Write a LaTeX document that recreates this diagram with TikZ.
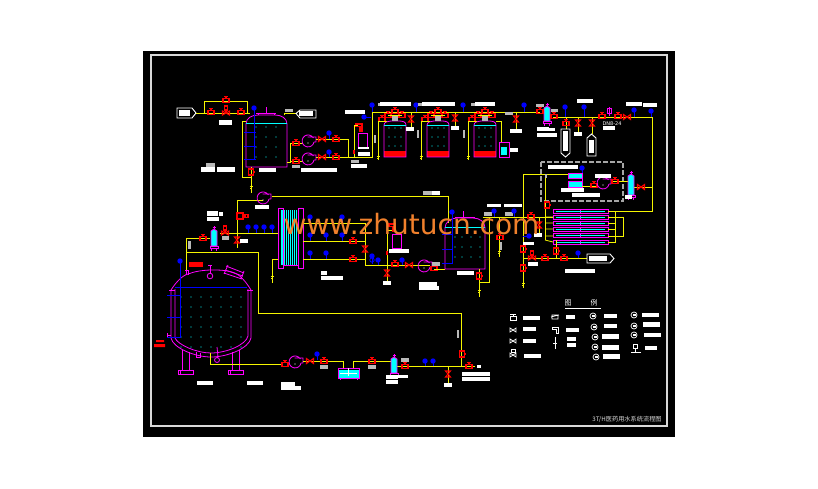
\documentclass[tikz,border=0pt]{standalone}
\usepackage{fontspec}
\setmainfont{DejaVu Sans}
\newfontfamily\cjkfont{Noto Sans CJK SC}
\definecolor{cyan}{RGB}{0,255,255}
\definecolor{magenta}{RGB}{255,0,255}
\definecolor{red}{RGB}{255,0,0}
\definecolor{blue}{RGB}{0,0,255}
\definecolor{yellow}{RGB}{245,245,0}
\definecolor{stamp}{RGB}{240,128,44}
\tikzset{
  pipe/.style={draw=yellow, line width=0.8pt},
  vessel/.style={draw=magenta, line width=0.8pt},
  vlv/.style={draw=red, line width=1.05pt},
  inst/.style={draw=blue, line width=0.8pt},
  lgd/.style={draw=white, line width=0.7pt},
  tagbox/.style={draw=white, line width=0.9pt},
}
\newcommand{\wtag}[4]{\fill[white] (#1,#2) rectangle (#3,#4);}
\newcommand{\gtag}[4]{\fill[gray!55] (#1,#2) rectangle (#3,#4);}
\newcommand{\gatev}[2]{\begin{scope}[shift={(#1,#2)}]
  \draw[vlv] (-3,-1.5) rectangle (3,2.5);
  \draw[vlv] (0,-1.5) -- (0,-3.5) (-2,-3.5) -- (2,-3.5);
\end{scope}}
\newcommand{\vgatev}[2]{\begin{scope}[shift={(#1,#2)}]
  \draw[vlv] (-2.5,-3) rectangle (2.5,3);
  \draw[vlv] (2.5,0) -- (4,0);
\end{scope}}
\newcommand{\xvalve}[2]{\draw[vlv] (#1-2.5,#2-3) -- (#1+2.5,#2-3) -- (#1-2.5,#2+3) -- (#1+2.5,#2+3) -- cycle;}
\newcommand{\chkv}[2]{\draw[vlv] (#1-3.5,#2-2.5) -- (#1-3.5,#2+2.5) -- (#1+3.5,#2-2.5) -- (#1+3.5,#2+2.5) -- cycle;}
\newcommand{\ctrlv}[2]{\draw[vlv] (#1-3.5,#2-2) -- (#1-3.5,#2+2) -- (#1+3.5,#2-2) -- (#1+3.5,#2+2) -- cycle;
  \draw[vlv] (#1,#2) -- (#1,#2-3) (#1-1.5,#2-7) rectangle (#1+1.5,#2-3);}
\newcommand{\gauge}[3]{\draw[inst] (#1,#2) -- (#1,#2+#3);
  \fill[blue] (#1,#2) circle (2.7);}
\newcommand{\drain}[2]{\draw[pipe] (#1-1.5,#2-1) -- (#1+1.5,#2-1) (#1-1,#2+1) -- (#1+1,#2+1);}
\newcommand{\pump}[2]{\begin{scope}[shift={(#1,#2)}]
  \draw[vessel] (6,-1) arc (10:330:6) (6,-1) -- (8,-1) (-0.5,-6) -- (8,-6) -- (8,-1);
  \fill[white] (0,0) circle (0.7);
\end{scope}}
\newcommand{\cfilter}[3]{\begin{scope}[shift={(#1,#2)}]
  \fill[cyan] (-3,-7) -- (0,-9) -- (3,-7) -- (3,#3) -- (-3,#3) -- cycle;
  \draw[vessel] (-3,-7) -- (0,-9) -- (3,-7) -- (3,#3) -- (-3,#3) -- cycle;
  \draw[vessel] (0,-9) -- (0,-12) (-1.5,-11) -- (1.5,-11);
  \draw[vessel] (-4,#3) rectangle (4,#3+2) (-2.5,#3+2) -- (-2.5,#3+5) (2.5,#3+2) -- (2.5,#3+5);
\end{scope}}
\newcommand{\elbow}[2]{\draw[vlv] (#1-3,#2-3) -- (#1+3,#2-3) -- (#1+3,#2+4) -- (#1+1,#2+4) -- (#1+1,#2-0.5) -- (#1-3,#2-0.5) -- cycle;}
\newcommand{\rtank}[1]{\begin{scope}[shift={(#1,0)}]
  % body and resin bed
  \fill[red] (0,151) rectangle (22,157);
  \draw[vessel] (0,157) -- (0,125) .. controls (0,122) and (4,121) .. (7,121) -- (15,121) .. controls (19,121) and (22,122) .. (22,125) -- (22,157) -- cycle;
  \draw[cyan, line width=0.6pt] (0,125) -- (22,125);
  \foreach \dx in {5,11,17} \foreach \dy in {128,137,146} \fill[cyan] (\dx,\dy) circle (0.6);
  \gatev{-2}{119} \gatev{4}{115} \gatev{11}{111} \gatev{18}{115}
  \fill[gray!55] (8,115) rectangle (14,121);
  \draw[pipe] (-6,121) -- (3,121) (-6,121) -- (-6,160) (4,115) -- (18,115);
  \drain{-6}{157}
\end{scope}}
\newcommand{\coil}[1]{
  \draw[magenta, line width=0.6pt] (553,#1) rectangle (608,#1+4);
  \draw[magenta, line width=0.6pt] (580,#1) -- (580,#1+4);
  \draw[cyan, line width=0.5pt] (556,#1+2) -- (605,#1+2);}
\begin{document}
\begin{tikzpicture}[x=1pt, y=-1pt]
\useasboundingbox (0,0) rectangle (818,488);
\fill[white] (0,0) rectangle (818,488);
\fill[black] (143,51) rectangle (675,437);
\draw[gray!30!white, line width=1.6pt] (151,55) rectangle (667,426);
% Softener line, top left
\draw[pipe] (196,113) -- (250,113) (204,113) -- (204,101) -- (247,101) -- (247,113);
\draw[tagbox] (177,108) -- (192,108) -- (196,113) -- (192,118) -- (177,118) -- cycle;
\wtag{179}{110}{190}{116}
\gatev{211}{112} \gatev{241}{112} \gatev{226}{100}
\ctrlv{226}{113}
\wtag{219}{120}{232}{125}
% First tank
\draw[vessel] (246,167) -- (246,124) .. controls (246,118) and (252,115) .. (258,115) -- (275,115) .. controls (281,115) and (287,118) .. (287,124) -- (287,167) -- cycle;
\draw[cyan, line width=0.6pt] (246,123) -- (287,123);
\draw[vessel] (256,113) -- (276,113) (258,113) -- (258,115) (274,113) -- (274,115) (266,107) -- (266,113);
\foreach \x in {256,266,276} \foreach \y in {127,137,147,157} \fill[cyan] (\x,\y) circle (0.6);
\gauge{254}{108}{52}
\draw[inst] (244,132) -- (256,132) (244,146) -- (256,146) (244,159) -- (256,159);
\draw[pipe] (246,121) -- (242,121) -- (242,177) -- (251,177);
\draw[pipe] (251,167) -- (251,193);
\vgatev{251}{172} \drain{251}{187}
\gtag{206}{163}{215}{167} \wtag{201}{167}{215}{172} \wtag{217}{167}{235}{172}
\wtag{259}{168}{276}{172}
\draw[pipe] (287,162) -- (290,162) -- (290,143) -- (303,143) (290,161) -- (303,161);
\draw[pipe] (284,115) -- (284,113) -- (296,113);
\draw[tagbox] (316,110) -- (300,110) -- (296,113.5) -- (300,118) -- (316,118) -- cycle;
\wtag{299}{111}{313}{116}
\gtag{285}{109}{293}{112}
\pump{308}{143} \pump{308}{161}
\gatev{296}{143} \gatev{296}{161}
\gtag{292}{165}{300}{168}
\draw[pipe] (316,139) -- (348,139) -- (348,157) (316,157) -- (373,157);
\chkv{322}{139} \chkv{322}{157}
\gatev{336}{139} \gatev{336}{157}
\gauge{329}{133}{6} \gauge{329}{152}{5}
\wtag{301}{168}{337}{172}
\wtag{345}{110}{365}{114}
% Degasser column
\draw[vessel] (358,133) rectangle (367,147);
\elbow{359}{127}
\draw[pipe] (354,157) -- (354,125) -- (358,125);
\fill[red] (353,150) rectangle (355,154);
\wtag{358}{147}{369}{149} \wtag{358}{152}{370}{156}
\gtag{374}{135}{376}{143} \gtag{351}{160}{359}{163} \wtag{351}{164}{367}{168}
% Main header
\draw[pipe] (372,157) -- (372,112) -- (540,112);
\draw[pipe] (553,117) -- (652,117) -- (652,211) -- (608,211);
\gauge{372}{105}{7} \gauge{416}{105}{7} \gauge{463}{105}{7} \gauge{524}{105}{7}
\gauge{364}{117}{0} \draw[inst] (364,117) -- (371,117);
\rtank{384} \rtank{427} \rtank{474}
\draw[pipe] (496,121) -- (501,121) -- (501,142);
\draw[vessel] (499,142) rectangle (509,157);
\fill[cyan] (501,147) rectangle (507,155);
\wtag{510}{148}{518}{152}
\draw[pipe] (411,112) -- (411,127) (455,112) -- (455,127) (516,112) -- (516,129);
\xvalve{411}{119} \xvalve{455}{118} \xvalve{516}{119}
\wtag{406}{127}{414}{131} \wtag{451}{126}{459}{130} \wtag{510}{129}{522}{133}
\wtag{380}{102}{411}{106} \wtag{422}{102}{455}{106} \wtag{475}{102}{495}{106}
\gtag{378}{103}{380}{106} \gtag{418}{103}{422}{106} \gtag{471}{103}{475}{106}
\gtag{417}{130}{419}{138} \gtag{463}{130}{465}{138}
\gtag{505}{112}{513}{115} \gtag{536}{104}{544}{107}
% Final filters and outlet
\cfilter{547}{115}{6}
\gatev{540}{111} \gatev{554}{116}
\wtag{537}{127}{549}{131} \wtag{549}{128}{555}{131} \wtag{537}{133}{557}{137}
\gtag{551}{109}{558}{112}
\gauge{565}{107}{10} \gauge{584}{107}{10} \gauge{634}{110}{7} \gauge{651}{111}{6}
\draw[pipe] (566,117) -- (566,129) (578,117) -- (578,132) (592,117) -- (592,134);
\gatev{566}{123} \xvalve{578}{123} \xvalve{592}{123}
\draw[tagbox] (561,129) -- (570,129) -- (570,153) -- (565.5,157) -- (561,153) -- cycle;
\wtag{563}{131}{568}{151}
\draw[tagbox] (587,138) -- (591.5,134) -- (596,138) -- (596,156) -- (587,156) -- cycle;
\wtag{589}{140}{594}{153}
\wtag{574}{132}{582}{136} \wtag{577}{99}{593}{103}
\gatev{602}{116} \gatev{618}{116} \chkv{627}{117}
\draw[vessel] (609,107) -- (609,116) (607,108) rectangle (611,113);
\node[white, font=\tiny, inner sep=0pt] (outletsize) at (612,124) {DN8-24};
\wtag{603}{126}{615}{130}
\wtag{626}{102}{642}{106} \wtag{643}{103}{657}{107}
% Dashed skid
\draw[gray!70!white, dash pattern=on 5pt off 2pt, line width=1.1pt] (541,162) rectangle (623,201);
\draw[pipe] (523,288) -- (523,174) -- (568,174) (545,174) -- (545,240);
\fill[cyan] (568,173) rectangle (582,187);
\draw[vessel] (568,173) rectangle (582,187);
\fill[black] (568,178) rectangle (582,181);
\draw[vessel] (568,178) -- (582,178) (568,181) -- (582,181);
\draw[pipe] (582,186) -- (597,186) (611,181) -- (628,181) (634,187) -- (652,187);
\gatev{594}{185} \pump{603}{185} \gatev{615}{181}
\cfilter{631}{183}{12} \chkv{641}{187}
\gauge{582}{168}{5}
\wtag{548}{165}{578}{169} \wtag{595}{174}{611}{178} \wtag{561}{188}{584}{192}
\wtag{572}{193}{600}{197} \wtag{625}{195}{632}{199} \gtag{545}{174}{547}{178}
% Coil heat exchangers
\foreach \y in {209,215,221,227,233,240} {\coil{\y}}
\draw[pipe] (608,211) -- (615,211) (615,211) -- (615,242) -- (608,242) (608,217) -- (623,217) -- (623,236) -- (608,236)
  (608,223) -- (615,223) (608,229) -- (615,229);
\draw[pipe] (545,217) -- (553,217) (545,223) -- (553,223) (545,229) -- (553,229) (545,236) -- (553,236) (545,240) -- (553,242);
\draw[pipe] (483,217) -- (553,217);
\gatev{531}{216}
\vgatev{547}{205}
\draw[pipe] (539,217) -- (539,233);
\xvalve{539}{225}
\wtag{534}{233}{542}{237} \wtag{523}{242}{534}{245}
\gauge{529}{236}{0} \draw[inst] (529,236) -- (523,236);
\draw[pipe] (523,258) -- (587,258) (556,240) -- (556,258);
\vgatev{523}{249} \vgatev{523}{268} \vgatev{556}{251}
\ctrlv{532}{258} \gatev{545}{258} \gatev{564}{258}
\gauge{578}{253}{5}
\draw[tagbox] (587,254) -- (610,254) -- (614,258.5) -- (610,263) -- (587,263) -- cycle;
\wtag{589}{256}{607}{261}
\wtag{528}{262}{538}{266} \wtag{565}{269}{595}{273}
\drain{523}{284}
\gtag{423}{191}{432}{195} \wtag{432}{191}{440}{195}
\wtag{487}{204}{501}{207} \wtag{504}{204}{522}{207}
\gtag{484}{212}{492}{216} \gtag{505}{212}{513}{216} \gtag{500}{242}{502}{250}
% Return loop and exchanger
\draw[pipe] (272,196) -- (448,196) -- (448,223);
\draw[pipe] (263,200) -- (237,200) -- (237,248);
\pump{263}{200}
\begin{scope}[shift={(240,216)}]\draw[vlv] (-3,-3) rectangle (3,3); \draw[vlv] (3,0) -- (5,0); \draw[vlv] (5,-1.5) rectangle (8,1.5);\end{scope}
\wtag{255}{205}{269}{209}
\wtag{207}{211}{218}{216} \wtag{219}{212}{223}{216} \wtag{207}{217}{219}{221}
\fill[cyan] (281,210) rectangle (299,265);
\foreach \x in {283,285,...,297} \draw[black, line width=0.35pt] (\x,210) -- (\x,265);
\draw[vessel] (278,268) -- (278,208) -- (283,208) -- (283,265) -- (298,265) -- (298,208) -- (303,208) -- (303,268) -- (298,268) -- (298,265) (283,265) -- (283,268) -- (278,268);
\draw[pipe] (186,272) -- (186,238) -- (210,238) (220,233) -- (278,233);
\gauge{248}{227}{6} \gauge{256}{227}{6} \gauge{264}{227}{6} \gauge{272}{227}{6}
\gauge{310}{217}{6} \gauge{342}{217}{6} \gauge{310}{235}{6} \gauge{326}{235}{6} \gauge{342}{235}{6}
\gauge{310}{253}{6} \gauge{326}{253}{6}
\cfilter{214}{238}{8}
\ctrlv{225}{233} \gatev{203}{238}
\draw[pipe] (237,230) -- (237,248);
\xvalve{237}{240}
\wtag{240}{239}{248}{243} \gtag{222}{236}{229}{240} \gtag{188}{241}{191}{249}
\draw[pipe] (303,223) -- (365,223) -- (365,265) -- (430,265) (303,241) -- (365,241) (303,259) -- (365,259);
\gatev{353}{241} \gatev{353}{259}
\xvalve{365}{249}
\gauge{372}{256}{8} \draw[inst] (372,260) circle (2.2); \gauge{378}{260}{5} \gauge{402}{260}{5}
\draw[pipe] (278,259) -- (272,259) -- (272,283);
\drain{272}{277}
\wtag{321}{271}{327}{275} \wtag{321}{276}{343}{280}
% Second tank and degasser
\draw[vessel] (392,234) rectangle (401,248);
\elbow{392}{227}
\draw[pipe] (387,230) -- (392,230) (387,230) -- (387,281);
\fill[red] (386,251) rectangle (388,255);
\xvalve{387}{273}
\wtag{389}{249}{409}{253} \wtag{383}{281}{391}{285}
\gatev{395}{264} \chkv{409}{265}
\pump{424}{268} \gatev{434}{268}
\draw[pipe] (434,269) -- (445,269);
\gtag{432}{262}{440}{266}
\wtag{419}{282}{437}{286} \wtag{419}{286}{439}{290}
\draw[vessel] (445,269) -- (445,228) .. controls (445,222) and (451,218) .. (457,218) -- (473,218) .. controls (480,218) and (485,222) .. (485,228) -- (485,269) -- cycle;
\draw[cyan, line width=0.6pt] (445,227) -- (485,227);
\draw[vessel] (455,217) -- (475,217) (463,211) -- (463,217);
\foreach \x in {455,462,471,480} \foreach \y in {237,247,257} \fill[cyan] (\x,\y) circle (0.6);
\gauge{452}{212}{51}
\draw[inst] (442,234) -- (453,234) (442,249) -- (453,249) (442,263) -- (453,263);
\gauge{494}{211}{6} \gauge{514}{211}{6}
\draw[pipe] (489,217) -- (489,282) -- (479,282) (479,269) -- (479,297) (499,217) -- (499,257);
\gatev{500}{237} \vgatev{479}{276} \drain{479}{291} \drain{499}{252}
\wtag{457}{271}{474}{275}
% Long return
\draw[pipe] (186,252) -- (258,252) -- (258,313) -- (461,313) -- (461,367);
% Main storage tank
\fill[red] (189,262) rectangle (203,267);
\draw[vessel] (171,290) .. controls (176,282) and (183,275) .. (188,274) .. controls (200,269) and (222,269) .. (232,272) .. controls (240,274) and (246,282) .. (251,290);
\draw[vessel] (171,290) -- (171,338) .. controls (173,348) and (195,357) .. (211,357) .. controls (228,357) and (249,348) .. (251,338) -- (251,290);
\draw[vessel] (175,289) -- (175,338) .. controls (178,345) and (197,353) .. (211,353) .. controls (226,353) and (246,345) .. (248,336) -- (248,289);
\draw[vessel] (169,290) -- (175,290) (247,290) -- (253,290);
\draw[blue, line width=0.5pt] (175,287) -- (247,287);
\foreach \x in {181,191,...,241} \foreach \y in {297,307,...,347} \fill[cyan] (\x,\y) circle (0.6);
\gauge{180}{261}{77}
\draw[inst] (167,295) -- (180,295) (167,317) -- (180,317) (167,337) -- (180,337);
\draw[vessel] (185,270) -- (189,270) (186,270) -- (186,275) (188,270) -- (188,275);
\draw[vessel] (208,265) -- (212,265) (210,265) -- (210,274);
\draw[vessel] (210,276) circle (2.8);
\draw[vessel] (225,270) -- (243,276) (224,273) -- (242,279) (226,266) -- (244,273) (228,265) -- (224,274) (244,271) -- (241,279);
\draw[vessel] (182,350) -- (182,370) (189,352) -- (189,370) (232,352) -- (232,370) (239,350) -- (239,370);
\draw[vessel] (178,370) rectangle (193,374) (228,370) rectangle (243,374) (180,370) -- (180,374) (230,370) -- (230,374);
\draw[vessel] (196,352) -- (196,357) -- (200,357) -- (200,353);
\draw[vessel] (167,335) -- (171,335) (167,333) -- (167,337);
\draw[vessel] (217,347) -- (218,357) (217,360) circle (2.5);
\fill[red] (156,340) rectangle (164,342) (154,344) rectangle (165,347);
\draw[pipe] (210,353) -- (210,364) -- (283,364);
\wtag{197}{381}{213}{385} \wtag{247}{381}{263}{385} \wtag{281}{382}{295}{386} \wtag{281}{386}{301}{390}
% Distribution
\gatev{285}{364} \pump{295}{364}
\draw[pipe] (303,361) -- (343,361) -- (343,368) (353,368) -- (353,361) -- (395,361) (395,366) -- (475,366);
\chkv{310}{361} \gatev{324}{361} \gatev{372}{361}
\gauge{317}{354}{6}
\gtag{320}{365}{328}{369} \gtag{368}{365}{376}{369}
\fill[cyan] (339,370) rectangle (359,378);
\draw[vessel] (338,368) rectangle (359,378);
\draw[white, line width=0.6pt] (348,368) -- (348,376) (340,373) -- (357,373);
\draw[vessel] (340,378) -- (340,380) (357,378) -- (357,380);
\cfilter{394}{366}{7}
\gatev{405}{366} \gatev{469}{366} \vgatev{462}{354}
\gauge{425}{361}{5} \gauge{433}{361}{5}
\draw[pipe] (448,366) -- (448,383);
\xvalve{448}{374}
\gtag{401}{358}{409}{362} \gtag{457}{330}{459}{338} \wtag{444}{383}{452}{387}
\wtag{386}{375}{398}{379} \wtag{386}{380}{398}{384} \wtag{398}{375}{408}{378}
\wtag{462}{372}{490}{376} \wtag{462}{377}{490}{381} \wtag{477}{365}{481}{368}
% Legend
\node[white, font=\cjkfont\fontsize{7}{8}\selectfont, inner sep=0pt] (legendone) at (568,303) {图};
\node[white, font=\cjkfont\fontsize{7}{8}\selectfont, inner sep=0pt] (legendtwo) at (594,303) {例};
\draw[lgd] (565,308) -- (601,308);
\draw[lgd] (510,316) rectangle (516,320) (513,316) -- (513,314) (510,314) -- (516,314);
\foreach \y in {330,341,355} \draw[lgd] (510,\y-2) -- (510,\y+2) -- (516,\y-2) -- (516,\y+2) -- cycle;
\draw[lgd] (511,349) rectangle (515,352);
\draw[lgd] (551,317) -- (559,315) (552,315) rectangle (558,319);
\draw[lgd] (552,327) -- (558,327) -- (558,333) -- (556,333) -- (556,329) -- (552,329) -- cycle;
\draw[lgd] (555,337) -- (555,349) (553,343) -- (557,343);
\foreach \x/\y in {593/316,594/327,595/337,595/347,596/357,634/315,634/326,634/335}
  {\draw[lgd] (\x,\y) circle (3); \fill[white] (\x-1.5,\y-1) rectangle (\x+1.5,\y+1);}
\draw[lgd] (631,352) -- (641,352) (633,344) rectangle (637,348) (635,348) -- (635,352);
\foreach \a/\b/\c/\d in {523/316/540/320,523/327/536/331,523/339/536/343,524/354/541/358,566/315/575/319,566/328/579/332,567/337/576/341,567/343/576/347,604/314/617/318,604/324/617/328,602/334/619/339,602/345/619/350,603/354/620/359,642/313/659/317,643/322/660/327,644/333/661/337,645/346/657/350}
  {\wtag{\a}{\b}{\c}{\d}}
\node[gray!30!white, font=\cjkfont\fontsize{6.2}{7}\selectfont, inner sep=0pt] (drawtitle) at (627,419) {3T/H医药用水系统流程图};
% Watermark
\node[stamp, font=\fontsize{28}{30}\selectfont, inner sep=0pt] (stampmark) at (411.5,224) {www.zhutucn.com};
\end{tikzpicture}
\end{document}
